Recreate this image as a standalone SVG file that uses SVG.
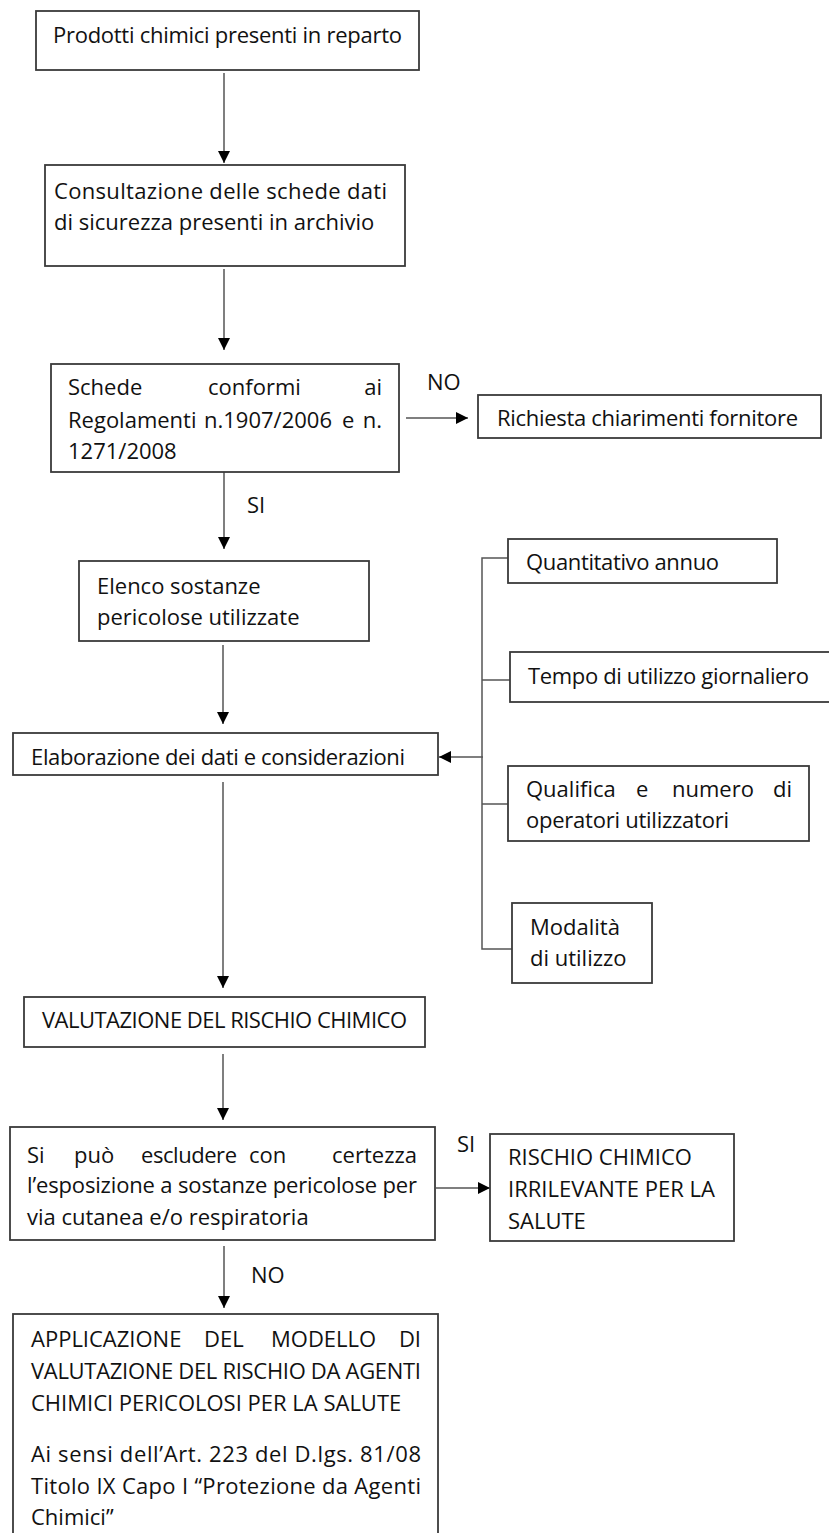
<svg xmlns="http://www.w3.org/2000/svg" width="829" height="1533" viewBox="0 0 829 1533">
<style>
.box{fill:#fff;stroke:#3a3a3a;stroke-width:1.8}
.t{font-family:"Open Sans","Noto Sans","Liberation Sans",sans-serif;font-size:22px;fill:#111}
.e{text-anchor:end}
.c{fill:none;stroke:#555;stroke-width:1.5}
</style>
<defs>
<marker id="ah" markerUnits="userSpaceOnUse" markerWidth="12" markerHeight="12" refX="12" refY="6" orient="auto">
<path d="M0,0 L12,6 L0,12 z" fill="#000"/>
</marker>
</defs>
<rect width="829" height="1533" fill="#fff"/>
<g id="connectors">
<line class="c" x1="224" y1="73" x2="224" y2="163" marker-end="url(#ah)"/>
<line class="c" x1="224" y1="269" x2="224" y2="350" marker-end="url(#ah)"/>
<line class="c" x1="406" y1="418" x2="468" y2="418" marker-end="url(#ah)"/>
<line class="c" x1="224" y1="472" x2="224" y2="549" marker-end="url(#ah)"/>
<line class="c" x1="223" y1="645" x2="223" y2="724" marker-end="url(#ah)"/>
<path class="c" d="M508,558 H482 V949 H512 M482,680 H510 M482,804 H508"/>
<line class="c" x1="483" y1="757" x2="439" y2="757" marker-end="url(#ah)"/>
<line class="c" x1="223" y1="782" x2="223" y2="988" marker-end="url(#ah)"/>
<line class="c" x1="223" y1="1054" x2="223" y2="1120" marker-end="url(#ah)"/>
<line class="c" x1="436" y1="1188" x2="490" y2="1188" marker-end="url(#ah)"/>
<line class="c" x1="224" y1="1246" x2="224" y2="1308" marker-end="url(#ah)"/>
<text class="t" x="427" y="390">NO</text>
<text class="t" x="247" y="513">SI</text>
<text class="t" x="457" y="1152">SI</text>
<text class="t" x="251" y="1283">NO</text>
</g>
<g id="n1">
<rect class="box" x="36" y="11" width="383" height="59"/>
<text class="t" x="53" y="43" textLength="349">Prodotti chimici presenti in reparto</text>
</g>
<g id="n2">
<rect class="box" x="45" y="165" width="360" height="101"/>
<text class="t" x="54" y="199" textLength="333">Consultazione delle schede dati</text>
<text class="t" x="54" y="230">di sicurezza presenti in archivio</text>
</g>
<g id="n3">
<rect class="box" x="51" y="364" width="348" height="108"/>
<text class="t" x="68" y="395">Schede</text>
<text class="t" x="208" y="395">conformi</text>
<text class="t e" x="382" y="395">ai</text>
<text class="t" x="68" y="428">Regolamenti</text>
<text class="t" x="204" y="428">n.1907/2006</text>
<text class="t" x="342" y="428">e</text>
<text class="t e" x="382" y="428">n.</text>
<text class="t" x="68" y="459">1271/2008</text>
</g>
<g id="n4">
<rect class="box" x="478" y="395" width="343" height="43"/>
<text class="t" x="497" y="426" textLength="301">Richiesta chiarimenti fornitore</text>
</g>
<g id="n5">
<rect class="box" x="79" y="561" width="290" height="80"/>
<text class="t" x="97" y="594">Elenco sostanze</text>
<text class="t" x="97" y="625">pericolose utilizzate</text>
</g>
<g id="n6">
<rect class="box" x="508" y="539" width="269" height="44"/>
<text class="t" x="526" y="570" textLength="193">Quantitativo annuo</text>
</g>
<g id="n7">
<rect class="box" x="510" y="652" width="330" height="50"/>
<text class="t" x="528" y="684" textLength="281">Tempo di utilizzo giornaliero</text>
</g>
<g id="n8">
<rect class="box" x="13" y="733" width="425" height="42"/>
<text class="t" x="31" y="765" textLength="374">Elaborazione dei dati e considerazioni</text>
</g>
<g id="n9">
<rect class="box" x="508" y="766" width="301" height="75"/>
<text class="t" x="526" y="797">Qualifica</text>
<text class="t" x="636" y="797">e</text>
<text class="t" x="672" y="797">numero</text>
<text class="t e" x="792" y="797">di</text>
<text class="t" x="526" y="828" textLength="203">operatori utilizzatori</text>
</g>
<g id="n10">
<rect class="box" x="512" y="903" width="140" height="80"/>
<text class="t" x="530" y="935">Modalità</text>
<text class="t" x="530" y="966">di utilizzo</text>
</g>
<g id="n11">
<rect class="box" x="24" y="997" width="401" height="50"/>
<text class="t" x="42" y="1028" textLength="365">VALUTAZIONE DEL RISCHIO CHIMICO</text>
</g>
<g id="n12">
<rect class="box" x="10" y="1127" width="425" height="113"/>
<text class="t" x="27" y="1163">Si</text>
<text class="t" x="74" y="1163">può</text>
<text class="t" x="141" y="1163" textLength="96">escludere</text>
<text class="t" x="249" y="1163">con</text>
<text class="t e" x="417" y="1163">certezza</text>
<text class="t" x="27" y="1193" textLength="390">l’esposizione a sostanze pericolose per</text>
<text class="t" x="27" y="1225">via cutanea e/o respiratoria</text>
</g>
<g id="n13">
<rect class="box" x="490" y="1134" width="244" height="107"/>
<text class="t" x="508" y="1165">RISCHIO CHIMICO</text>
<text class="t" x="508" y="1197">IRRILEVANTE PER LA</text>
<text class="t" x="508" y="1229">SALUTE</text>
</g>
<g id="n14">
<rect class="box" x="13" y="1314" width="425" height="240"/>
<text class="t" x="31" y="1347">APPLICAZIONE</text>
<text class="t" x="204" y="1347">DEL</text>
<text class="t" x="271" y="1347">MODELLO</text>
<text class="t e" x="421" y="1347">DI</text>
<text class="t" x="31" y="1379" textLength="390">VALUTAZIONE DEL RISCHIO DA AGENTI</text>
<text class="t" x="31" y="1411">CHIMICI PERICOLOSI PER LA SALUTE</text>
<text class="t" x="31" y="1462" textLength="390">Ai sensi dell’Art. 223 del D.lgs. 81/08</text>
<text class="t" x="31" y="1494" textLength="390">Titolo IX Capo I “Protezione da Agenti</text>
<text class="t" x="31" y="1525">Chimici”</text>
</g>
</svg>
